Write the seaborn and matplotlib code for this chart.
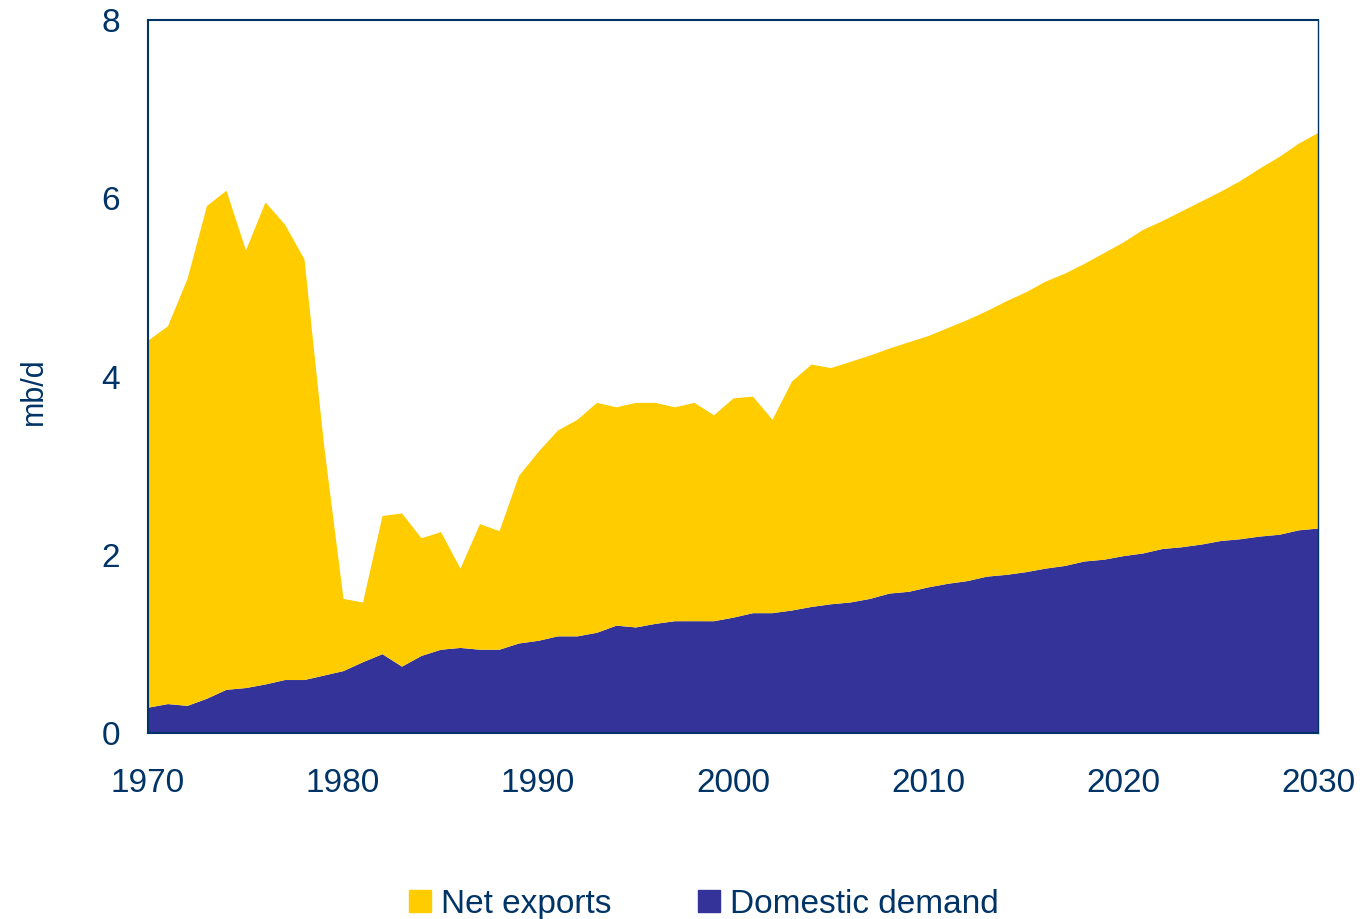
import matplotlib
matplotlib.use("Agg")
import matplotlib.pyplot as plt
import matplotlib.patches as mpatches
import seaborn as sns
import numpy as np

# Years on the x axis
years = list(range(1970, 2031))

# Domestic demand, mb/d
domestic_demand = [
    0.29, 0.33, 0.31, 0.39, 0.49, 0.51, 0.55, 0.60, 0.60, 0.65,
    0.70, 0.80, 0.89, 0.75, 0.87, 0.94, 0.96, 0.94, 0.94, 1.01,
    1.04, 1.09, 1.09, 1.13, 1.21, 1.19, 1.23, 1.26, 1.26, 1.26,
    1.30, 1.35, 1.35, 1.38, 1.42, 1.45, 1.47, 1.51, 1.57, 1.59,
    1.64, 1.68, 1.71, 1.76, 1.78, 1.81, 1.85, 1.88, 1.93, 1.95,
    1.99, 2.02, 2.07, 2.09, 2.12, 2.16, 2.18, 2.21, 2.23, 2.28,
    2.30,
]

# Net exports, mb/d (stacked on top of domestic demand)
net_exports = [
    4.12, 4.24, 4.79, 5.53, 5.60, 4.91, 5.41, 5.11, 4.72, 2.59,
    0.81, 0.67, 1.55, 1.72, 1.32, 1.32, 0.89, 1.41, 1.33, 1.88,
    2.12, 2.31, 2.43, 2.58, 2.45, 2.52, 2.48, 2.40, 2.45, 2.31,
    2.46, 2.43, 2.17, 2.57, 2.72, 2.65, 2.70, 2.73, 2.75, 2.80,
    2.82, 2.87, 2.93, 2.98, 3.07, 3.14, 3.22, 3.28, 3.34, 3.44,
    3.52, 3.63, 3.68, 3.77, 3.85, 3.92, 4.02, 4.13, 4.24, 4.34,
    4.44,
]

series_names = ["Net exports", "Domestic demand"]
x_ticks = [1970, 1980, 1990, 2000, 2010, 2020, 2030]
y_ticks = [0, 2, 4, 6, 8]

YELLOW = "#FFCC00"
PURPLE = "#333399"
NAVY = "#003366"

sns.set_theme(style="white")
plt.rcParams["font.family"] = ["Liberation Sans", "DejaVu Sans"]

fig = plt.figure(figsize=(13.64, 9.19), dpi=100)
ax = fig.add_axes([0.1085, 0.2024, 0.8578, 0.7758])

ax.stackplot(years, domestic_demand, net_exports,
             colors=[PURPLE, YELLOW], linewidth=0)

ax.set_xlim(1970, 2030)
ax.set_ylim(0, 8)
ax.set_xticks(x_ticks)
ax.set_yticks(y_ticks)
ax.tick_params(axis="both", direction="out", length=8, width=1.5,
               colors=NAVY, labelsize=24, labelcolor=NAVY)
ax.tick_params(axis="x", pad=17)
ax.tick_params(axis="y", pad=12)
ax.set_ylabel("mb/d", fontsize=22, color=NAVY)
ax.yaxis.set_label_coords(-0.085, 0.48)

for side in ["left", "bottom", "top", "right"]:
    ax.spines[side].set_color(NAVY)
    ax.spines[side].set_linewidth(1.5)
ax.spines["right"].set_linewidth(1.0)

handles = [mpatches.Patch(color=YELLOW), mpatches.Patch(color=PURPLE)]
fig.legend(handles, series_names, loc="center", bbox_to_anchor=(0.516, 0.016),
           ncol=2, frameon=False, fontsize=24, labelcolor=NAVY,
           handlelength=0.67, handleheight=0.67, handletextpad=0.3,
           columnspacing=2.6)

fig.savefig("out.png", dpi=100)
